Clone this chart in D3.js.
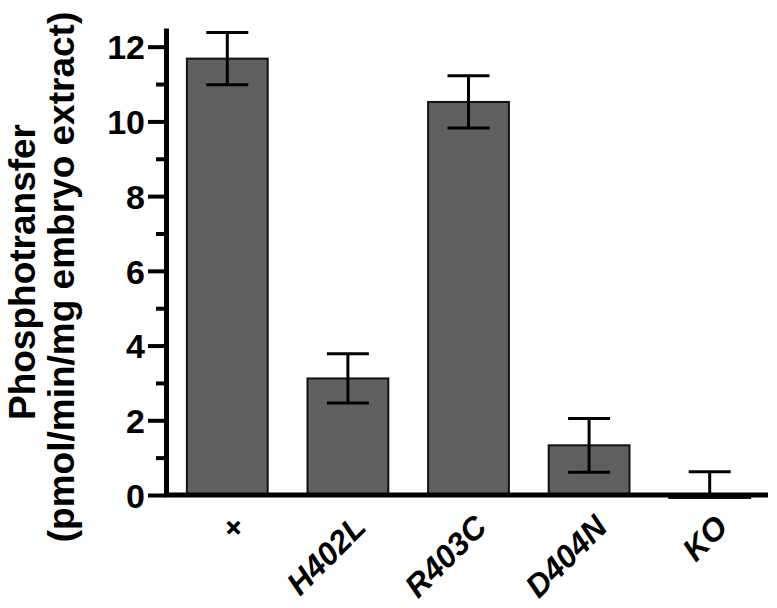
<!DOCTYPE html>
<html>
<head>
<meta charset="utf-8">
<script src="https://cdn.jsdelivr.net/npm/d3@7"></script>
<style>
  body { margin: 0; background: #fff; }
  text { font-family: "Liberation Sans", Arial, Helvetica, sans-serif; font-weight: bold; }
</style>
</head>
<body>
<div id="container"></div>
<script>
const categories = ['+', 'H402L', 'R403C', 'D404N', 'KO'];
const values = [11.68, 3.12, 10.52, 1.33, -0.08];
const errors = [0.70, 0.66, 0.70, 0.72, 0.70];
const majorTicks = [0, 2, 4, 6, 8, 10, 12];
const minorTicks = [1, 3, 5, 7, 9, 11];

const w = 777;
const h = 608;

const svg = d3
  .select('#container')
  .append('svg')
  .attr('width', w)
  .attr('height', h);

const x = d3
  .scaleBand()
  .domain(categories)
  .range([167, 770])
  .paddingInner(0.33)
  .paddingOuter(0.165);

const y = d3
  .scaleLinear()
  .domain([0, 12.5])
  .range([495, 28]);

// bars
svg
  .append('g')
  .selectAll('rect')
  .data(categories)
  .enter()
  .append('rect')
  .attr('x', d => x(d))
  .attr('width', x.bandwidth())
  .attr('y', (d, i) => Math.min(y(values[i]), y(0)))
  .attr('height', (d, i) => Math.abs(y(values[i]) - y(0)))
  .attr('fill', '#606060')
  .attr('stroke', '#111')
  .attr('stroke-width', 2);

// error bars (lower whisker hidden when it falls below zero)
const capW = 42;
const err = svg.append('g').attr('stroke', '#000').attr('stroke-width', 3);
categories.forEach((c, i) => {
  const cx = x(c) + x.bandwidth() / 2;
  const hi = values[i] + errors[i];
  const lo = values[i] - errors[i];
  const base = Math.max(values[i], 0);
  err.append('line').attr('x1', cx).attr('x2', cx).attr('y1', y(base)).attr('y2', y(hi));
  err.append('line').attr('x1', cx - capW / 2).attr('x2', cx + capW / 2).attr('y1', y(hi)).attr('y2', y(hi));
  if (lo >= 0) {
    err.append('line').attr('x1', cx).attr('x2', cx).attr('y1', y(values[i])).attr('y2', y(lo));
    err.append('line').attr('x1', cx - capW / 2).attr('x2', cx + capW / 2).attr('y1', y(lo)).attr('y2', y(lo));
  }
});

// y axis
const yAxis = svg.append('g').attr('transform', 'translate(166,0)');
yAxis.call(
  d3.axisLeft(y)
    .tickValues(majorTicks)
    .tickSize(18)
    .tickSizeOuter(0)
    .tickPadding(3)
    .tickFormat(d3.format('d'))
);
yAxis.select('.domain').attr('stroke-width', 5).attr('stroke', '#000');
yAxis.selectAll('.tick line').attr('stroke-width', 4).attr('stroke', '#000');
yAxis.selectAll('.tick text')
  .attr('font-size', 34)
  .attr('fill', '#000')
  .attr('dy', '0.36em');

svg.append('g')
  .attr('transform', 'translate(166,0)')
  .call(d3.axisLeft(y).tickValues(minorTicks).tickSize(10).tickSizeOuter(0).tickFormat(''))
  .call(g => g.select('.domain').remove())
  .selectAll('.tick line')
  .attr('stroke-width', 4)
  .attr('stroke', '#000');

// x axis
const xAxis = svg.append('g').attr('transform', `translate(0,${y(0)})`);
xAxis.append('line')
  .attr('x1', 164)
  .attr('x2', 768)
  .attr('stroke', '#000')
  .attr('stroke-width', 5);

xAxis.selectAll('text')
  .data(categories)
  .enter()
  .append('text')
  .attr('transform', d => `translate(${x(d) + x.bandwidth() / 2 + 20},34) rotate(-45)`)
  .attr('text-anchor', 'end')
  .attr('font-size', 32)
  .attr('font-style', 'italic')
  .attr('fill', '#000')
  .text(d => d);

// y title
const title = svg.append('g')
  .attr('font-size', 37)
  .attr('text-anchor', 'middle')
  .attr('fill', '#000');
title.append('text')
  .attr('transform', 'translate(35,272) rotate(-90)')
  .text('Phosphotransfer');
title.append('text')
  .attr('transform', 'translate(74,277) rotate(-90)')
  .text('(pmol/min/mg embryo extract)');
</script>
</body>
</html>
